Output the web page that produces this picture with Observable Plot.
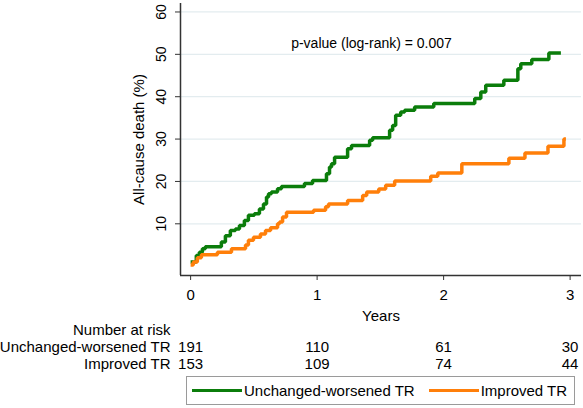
<!DOCTYPE html>
<html>
<head>
<meta charset="utf-8">
<script src="https://cdn.jsdelivr.net/npm/d3@7"></script>
<script src="https://cdn.jsdelivr.net/npm/@observablehq/plot@0.6"></script>
<style>
  body { margin: 0; background: #fff; font-family: "Liberation Sans", Arial, sans-serif; }
  #legend {
    margin-left: 186px; width: 387px; height: 27px; border: 1px solid #9a9a9a;
    display: flex; align-items: center; font-size: 15px; color: #000; box-sizing: content-box;
  }
  #legend .sw { width: 50px; height: 3.5px; }
</style>
</head>
<body>
<div id="chart"></div>
<div id="legend"></div>
<script>
// ---- data ----
const groupNames = ["Unchanged-worsened TR", "Improved TR"];
const groupColors = ["#0b7d0b", "#ff7f0a"];

const greenTimes = [0, 0.045, 0.069, 0.093, 0.116, 0.243, 0.275, 0.314, 0.354, 0.386, 0.425, 0.457, 0.504, 0.544, 0.576, 0.600, 0.616, 0.639, 0.687, 0.718, 0.900, 0.964, 1.074, 1.098, 1.114, 1.138, 1.241, 1.272, 1.415, 1.439, 1.573, 1.597, 1.621, 1.661, 1.692, 1.771, 1.922, 2.246, 2.294, 2.333, 2.476, 2.587, 2.610, 2.697, 2.832, 2.927];
const greenValues = [1.0, 2.5, 3.3, 4.1, 4.6, 5.7, 7.2, 8.4, 8.8, 9.6, 10.8, 12.0, 12.4, 13.5, 14.7, 16.3, 17.1, 17.5, 18.3, 18.8, 19.5, 20.2, 21.8, 23.4, 24.2, 25.7, 27.7, 28.5, 29.7, 30.3, 32.1, 33.2, 35.6, 36.4, 36.8, 37.6, 38.4, 39.6, 41.1, 42.7, 43.9, 46.6, 47.8, 48.8, 50.3, 50.3];

const orangeTimes = [0, 0.021, 0.053, 0.085, 0.212, 0.323, 0.434, 0.457, 0.497, 0.552, 0.592, 0.632, 0.687, 0.703, 0.727, 0.758, 0.972, 1.067, 1.090, 1.241, 1.360, 1.392, 1.487, 1.542, 1.613, 1.898, 1.954, 2.144, 2.516, 2.643, 2.825, 2.951, 2.967];
const orangeValues = [0.3, 1.0, 2.0, 2.7, 3.3, 4.1, 5.0, 6.1, 6.8, 7.6, 8.4, 9.1, 10.0, 10.4, 11.6, 12.7, 13.2, 14.0, 14.7, 15.5, 16.7, 17.5, 18.2, 19.1, 20.1, 21.2, 22.0, 24.2, 25.5, 26.7, 28.3, 30.0, 30.0];

const xTicks = [0, 1, 2, 3];
const yTicks = [10, 20, 30, 40, 50, 60];
const riskTimes = [0, 1, 2, 3];
const riskUnchanged = [191, 110, 61, 30];
const riskImproved = [153, 109, 74, 44];
const pLabel = "p-value (log-rank) = 0.007";
const pPos = {x: 1.43, y: 51.4};
const xDomain = [-0.08, 3.09];
const yDomain = [-2.2, 62];

// ---- build ----
const curves = [
  ...greenTimes.map((t, i) => ({t, v: greenValues[i], g: groupNames[0]})),
  ...orangeTimes.map((t, i) => ({t, v: orangeValues[i], g: groupNames[1]}))
];
const axisColor = "#333";
const font = "'Liberation Sans', Arial, sans-serif";

const chart = Plot.plot({
  width: 583, height: 376,
  marginLeft: 180, marginRight: 2, marginTop: 3, marginBottom: 101,
  style: {fontFamily: font, fontSize: "15px", color: "#000", background: "#fff", display: "block"},
  x: {domain: xDomain},
  y: {domain: yDomain},
  color: {domain: groupNames, range: groupColors},
  marks: [
    Plot.gridY(yTicks, {stroke: "#e3ecef", strokeOpacity: 1, strokeWidth: 1.2}),
    Plot.ruleX([xDomain[0]], {stroke: axisColor, strokeWidth: 1.5}),
    Plot.ruleY([yDomain[0]], {stroke: axisColor, strokeWidth: 1.5}),
    Plot.axisY({ticks: yTicks, tickSize: 5, tickFormat: () => "", label: null, stroke: axisColor}),
    Plot.axisX({ticks: xTicks, tickSize: 5, tickFormat: () => "", label: null, stroke: axisColor}),
    Plot.text(yTicks, {y: d => d, text: d => String(d), frameAnchor: "left", dx: -15, rotate: -90, lineAnchor: "bottom", textAnchor: "middle", fontSize: 14}),
    Plot.text(xTicks, {x: d => d, text: d => String(d), frameAnchor: "bottom", dy: 24, lineAnchor: "bottom", fontSize: 15}),
    Plot.text(["Years"], {frameAnchor: "bottom", dy: 45, lineAnchor: "bottom", fontSize: 15}),
    Plot.text(["All-cause death (%)"], {frameAnchor: "left", dx: -37, rotate: -90, lineAnchor: "bottom", textAnchor: "middle", fontSize: 15}),
    Plot.line(curves, {x: "t", y: "v", z: "g", stroke: "g", curve: "step-after", strokeWidth: 3.5, strokeLinejoin: "miter", strokeLinecap: "butt"}),
    Plot.text([pLabel], {x: () => pPos.x, y: () => pPos.y, text: d => d, lineAnchor: "bottom", fontSize: 14}),
    Plot.text(["Number at risk"], {frameAnchor: "bottom-left", dx: -10, dy: 59, textAnchor: "end", lineAnchor: "bottom", fontSize: 15}),
    Plot.text([groupNames[0]], {frameAnchor: "bottom-left", dx: -10, dy: 76.5, textAnchor: "end", lineAnchor: "bottom", fontSize: 15}),
    Plot.text([groupNames[1]], {frameAnchor: "bottom-left", dx: -10, dy: 93.3, textAnchor: "end", lineAnchor: "bottom", fontSize: 15}),
    Plot.text(riskTimes, {x: d => d, text: (d, i) => String(riskUnchanged[i]), frameAnchor: "bottom", dy: 76.5, lineAnchor: "bottom", fontSize: 15}),
    Plot.text(riskTimes, {x: d => d, text: (d, i) => String(riskImproved[i]), frameAnchor: "bottom", dy: 93.3, lineAnchor: "bottom", fontSize: 15})
  ]
});
document.getElementById("chart").appendChild(chart);

// legend
const leg = document.getElementById("legend");
groupNames.forEach((name, i) => {
  const sw = document.createElement("span");
  sw.className = "sw";
  sw.style.background = groupColors[i];
  sw.style.marginLeft = i === 0 ? "5px" : "14px";
  const tx = document.createElement("span");
  tx.textContent = name;
  tx.style.marginLeft = "2px";
  leg.appendChild(sw);
  leg.appendChild(tx);
});
</script>
</body>
</html>
